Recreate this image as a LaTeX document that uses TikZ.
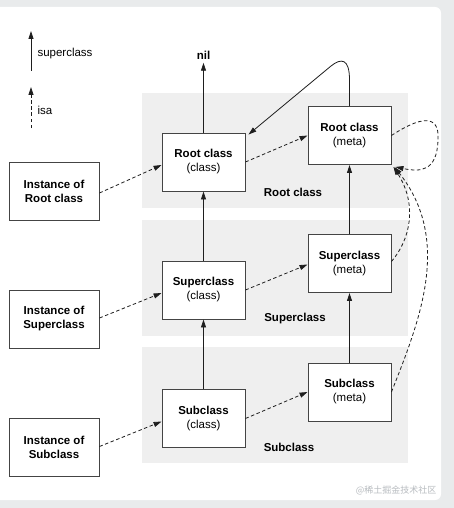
\documentclass[tikz,border=0pt]{standalone}
\usepackage{fontspec}
\setmainfont{Liberation Sans}
\newfontfamily\cjkfont{Noto Sans CJK SC}
\usetikzlibrary{arrows.meta}
\definecolor{outerbg}{HTML}{E9EBEC}
\definecolor{bandgray}{HTML}{EFEFEF}
\definecolor{lnc}{HTML}{1E1E1E}
\definecolor{boxline}{HTML}{444444}
\definecolor{wmark}{HTML}{B8BCC0}
\tikzset{
  box/.style={draw=boxline, line width=0.9pt, fill=white, minimum width=83pt, minimum height=58pt, inner sep=1pt, align=center, font=\fontsize{11.5}{14}\selectfont},
  band/.style={fill=bandgray, draw=none},
  bandlabel/.style={font=\fontsize{11.5}{14}\selectfont\bfseries},
  suparrow/.style={draw=lnc, line width=0.8pt, -{Triangle[length=8pt,width=5pt]}},
  isaarrow/.style={draw=lnc, line width=0.8pt, dash pattern=on 3.5pt off 2.5pt, -{Triangle[length=8pt,width=5pt]}},
  legendtext/.style={anchor=west, font=\fontsize{11.5}{14}\selectfont},
}
\begin{document}
\begin{tikzpicture}[x=1pt,y=-1pt]
\useasboundingbox (0,0) rectangle (454,508);
\fill[outerbg] (0,0) rectangle (454,508);
\fill[white, rounded corners=6pt] (-10,7) rectangle (441,500);
% bands
\fill[band] (142,93) rectangle (408,208);
\fill[band] (142,220) rectangle (408,336);
\fill[band] (142,347) rectangle (408,463);
\node[bandlabel] (lr) at (293,192) {Root class};
\node[bandlabel] (ls) at (295,319) {Superclass};
\node[bandlabel] (lb) at (289,447) {Subclass};
% legend
\coordinate (l1a) at (31,71);
\coordinate (l1b) at (31,31);
\coordinate (l2a) at (31,128);
\coordinate (l2b) at (31,87);
\draw[suparrow] (l1a) -- (l1b);
\draw[isaarrow] (l2a) -- (l2b);
\node[legendtext] (tsup) at (34,54) {superclass};
\node[legendtext] (tisa) at (34,110) {isa};
% nodes
\node[bandlabel] (nil) at (203.5,55) {nil};
\node[box] (rc) at (203.5,162) {\textbf{Root class}\\(class)};
\node[box] (rm) at (349.5,135.5) {\textbf{Root class}\\(meta)};
\node[box] (sc) at (203.5,290) {\textbf{Superclass}\\(class)};
\node[box] (sm) at (349.5,263.5) {\textbf{Superclass}\\(meta)};
\node[box] (bc) at (203.5,418.5) {\textbf{Subclass}\\(class)};
\node[box] (bm) at (349.5,392) {\textbf{Subclass}\\(meta)};
\node[box, minimum width=90pt] (ir) at (54,191) {\textbf{Instance of}\\\textbf{Root class}};
\node[box, minimum width=90pt] (is) at (54,319) {\textbf{Instance of}\\\textbf{Superclass}};
\node[box, minimum width=90pt] (ib) at (54,447.5) {\textbf{Instance of}\\\textbf{Subclass}};
% superclass arrows
\draw[suparrow] (rc.north) -- (nil.south);
\draw[suparrow] (sc.north) -- (rc.south);
\draw[suparrow] (bc.north) -- (sc.south);
\draw[suparrow] (sm.north) -- (rm.south);
\draw[suparrow] (bm.north) -- (sm.south);
\draw[suparrow] (rm.north) -- (349.5,80) .. controls (349.5,58) and (341,58) .. (331,66) -- ([xshift=3pt,yshift=-2pt]rc.north east);
% isa arrows
\draw[isaarrow] ([yshift=-2pt]ir.east) -- ([yshift=-3pt]rc.west);
\draw[isaarrow] ([yshift=1pt]is.east) -- ([yshift=-3pt]sc.west);
\draw[isaarrow] ([yshift=1pt]ib.east) -- ([yshift=-3pt]bc.west);
\draw[isaarrow] ([yshift=0pt]rc.east) -- ([yshift=0pt]rm.west);
\draw[isaarrow] ([yshift=0pt]sc.east) -- ([yshift=-1pt]sm.west);
\draw[isaarrow] ([yshift=0pt]bc.east) -- ([yshift=0pt]bm.west);
\coordinate (tip) at ([xshift=2pt,yshift=-2pt]rm.south east);
\draw[isaarrow] (rm.east) .. controls (418,118) and (440,112) .. (438,140) .. controls (437,172) and (420,172) .. ([xshift=2pt]tip);
\draw[isaarrow] ([yshift=2pt]sm.east) .. controls (410,240) and (418,205) .. (tip);
\draw[isaarrow] (bm.east) .. controls (420,320) and (452,240) .. ([xshift=1pt]tip);
% watermark
\node[anchor=east, text=wmark, font=\cjkfont\fontsize{9}{10}\selectfont] (wm) at (440,490) {@稀土掘金技术社区};
\end{tikzpicture}
\end{document}
